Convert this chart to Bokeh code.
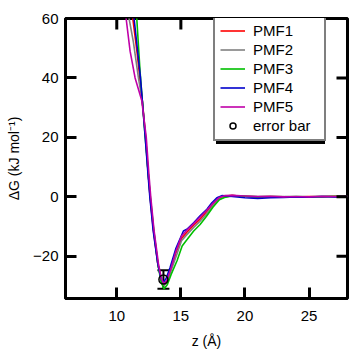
import math
from bokeh.plotting import figure
from bokeh.models import Legend, LegendItem, Whisker, ColumnDataSource, FixedTicker, Range1d, BoxAnnotation
from bokeh.embed import file_html
from bokeh.resources import INLINE

# ---- data ----
pmf1_z = [11.05, 11.25, 11.6, 12.0, 12.25, 12.45, 12.6, 12.85, 13.2, 13.45, 13.65, 13.9, 14.2, 14.6, 15.05, 15.45, 16.0, 16.5, 17.0, 17.5, 18.0, 18.4, 19.0, 19.5, 20.0, 21.0, 22.0, 23.0, 24.0, 25.0, 26.0, 27.0, 28.0]
pmf1_g = [67, 60, 48, 32, 20, 8, 0, -11, -22.5, -27.5, -29.5, -28.5, -24.5, -19, -14, -12, -9.5, -7.5, -5, -2.5, -0.5, 0.2, 0.5, 0.3, 0.2, 0.0, 0.1, 0.0, -0.1, 0.1, 0.0, 0.2, 0.1]

pmf2_z = [10.75, 10.96, 11.3, 11.69, 12.0, 12.25, 12.45, 12.6, 12.87, 13.22, 13.46, 13.66, 13.92, 14.22, 14.65, 15.05, 15.45, 16.0, 16.5, 17.0, 17.5, 18.0, 18.4, 19.0, 20.0, 21.0, 22.0, 23.0, 24.0, 25.0, 26.0, 27.0, 28.0]
pmf2_g = [67, 60, 52, 40, 32, 20, 8, 0, -11, -22.8, -28, -29.8, -28.8, -25, -19.8, -14.8, -12.8, -10.3, -8.2, -5.8, -3.0, -0.8, 0.0, 0.4, 0.2, 0.1, 0.0, 0.1, -0.1, 0.0, 0.1, 0.0, 0.1]

pmf3_z = [11.35, 11.56, 11.82, 12.0, 12.22, 12.45, 12.62, 12.88, 13.22, 13.45, 13.68, 13.95, 14.25, 14.7, 15.1, 15.5, 16.0, 16.5, 17.0, 17.5, 18.0, 18.4, 19.0, 20.0, 21.0, 22.0, 23.0, 24.0, 25.0, 26.0, 27.0, 28.0]
pmf3_g = [67, 60, 42, 32, 20, 8, 0, -11, -23, -28.5, -31, -29.5, -26, -21.5, -16.5, -14.3, -11.5, -9.3, -6.5, -3.5, -1.0, -0.2, 0.3, 0.2, 0.0, 0.1, 0.0, 0.1, 0.0, 0.1, 0.2, 0.2]

pmf4_z = [11.15, 11.35, 11.6, 11.85, 12.0, 12.22, 12.43, 12.58, 12.83, 13.18, 13.42, 13.62, 13.85, 14.16, 14.6, 15.2, 15.47, 16.0, 16.5, 17.03, 17.42, 17.81, 18.2, 18.6, 19.0, 20.0, 21.0, 22.0, 23.0, 24.0, 25.0, 26.0, 27.0, 28.0]
pmf4_g = [67, 60, 50, 40, 32, 20, 8, 0, -11, -22, -27, -28.8, -27.5, -23.8, -17.5, -11.5, -10.9, -8.7, -6.4, -4.2, -2.0, -0.3, 0.4, 0.3, 0.1, -0.3, -0.5, -0.3, -0.2, 0.0, -0.1, 0.1, 0.0, 0.1]

pmf5_z = [10.5, 10.73, 11.04, 11.43, 11.95, 12.3, 12.5, 12.65, 12.9, 13.25, 13.48, 13.68, 13.92, 14.2, 14.6, 15.05, 15.45, 16.0, 16.5, 17.0, 17.5, 18.0, 18.4, 19.0, 20.0, 21.0, 22.0, 23.0, 24.0, 25.0, 26.0, 27.0, 28.0]
pmf5_g = [67, 60, 49, 40, 32.4, 20, 8, 0, -11, -22.5, -27.5, -29.3, -28, -24.5, -18.5, -13.2, -11.3, -9, -6.8, -4.6, -2.2, -0.2, 0.4, 0.5, 0.3, 0.1, 0.2, 0.0, 0.1, 0.0, 0.2, 0.1, 0.2]

err_z = [13.64]
err_g = [-27.8]
err_d = [3.1]

series_names = ["PMF1", "PMF2", "PMF3", "PMF4", "PMF5"]
series_colors = ["#ff0000", "#808080", "#00c000", "#0000cc", "#c000a8"]
series_z = [pmf1_z, pmf2_z, pmf3_z, pmf4_z, pmf5_z]
series_g = [pmf1_g, pmf2_g, pmf3_g, pmf4_g, pmf5_g]

x_ticks = [10, 15, 20, 25]
y_ticks = [-20, 0, 20, 40, 60]
x_lo, x_hi = 6, 28
y_lo, y_hi = -34.2, 60

FONT = "Liberation Sans"
W, H = 361, 358
BL, BR, BT, BB = 65, 14, 18, 60
FW, FH = W - BL - BR, H - BT - BB

p = figure(width=W, height=H, output_backend="svg", toolbar_location=None,
           x_range=Range1d(x_lo, x_hi), y_range=Range1d(y_lo, y_hi),
           min_border_left=BL, min_border_right=BR, min_border_top=BT, min_border_bottom=BB)
p.grid.visible = False
p.outline_line_color = "black"
p.outline_line_width = 3
p.background_fill_color = "white"

items = []
for name, col, zz, gg in zip(series_names, series_colors, series_z, series_g):
    r = p.line(zz, gg, line_color=col, line_width=1.6)
    items.append(LegendItem(label=name, renderers=[r]))

src = ColumnDataSource(dict(z=err_z, g=err_g,
                            lo=[a - b for a, b in zip(err_g, err_d)],
                            hi=[a + b for a, b in zip(err_g, err_d)]))
wh = Whisker(base="z", lower="lo", upper="hi", source=src, line_color="black", line_width=2)
wh.upper_head.size = 12
wh.lower_head.size = 12
wh.upper_head.line_width = 2
wh.lower_head.line_width = 2
p.add_layout(wh)
cr = p.scatter("z", "g", source=src, marker="circle", size=9, fill_color=None,
               line_color="black", line_width=1.5)
items.append(LegendItem(label="error bar", renderers=[cr]))

# mirrored inward ticks on the top and right frame edges (half of each dash is clipped)
p.scatter(x_ticks, [y_hi] * len(x_ticks), marker="dash", size=22, angle=math.pi / 2,
          line_color="black", line_width=3)
p.scatter([x_hi] * len(y_ticks), y_ticks, marker="dash", size=22,
          line_color="black", line_width=3)

xa = p.xaxis[0]
ya = p.yaxis[0]
xa.ticker = FixedTicker(ticks=x_ticks)
ya.ticker = FixedTicker(ticks=y_ticks)
for ax in (xa, ya):
    ax.axis_line_width = 3
    ax.major_tick_line_width = 3
    ax.major_tick_in = 11
    ax.major_tick_out = 0
    ax.minor_tick_line_color = None
    ax.major_label_text_font = FONT
    ax.major_label_text_font_size = "15px"
    ax.major_label_text_color = "black"
    ax.axis_label_text_font = FONT
    ax.axis_label_text_font_size = "14px"
    ax.axis_label_text_font_style = "normal"
    ax.axis_label_text_color = "black"
xa.axis_label = "z (Å)"
ya.axis_label = "ΔG (kJ mol⁻¹)"
xa.major_label_standoff = 12
ya.major_label_standoff = 7
xa.axis_label_standoff = 9
ya.axis_label_standoff = 8

# legend box placement (pixels inside the frame) and its drop shadow
LEG_X, LEG_TOP, LEG_W, LEG_H, SH = 148, 13, 109, 110, 2.5
PAD, GW, STAND = 5, 25, 8
def px_to_x(px):
    return x_lo + px / FW * (x_hi - x_lo)
def py_to_y(py):
    return y_hi - py / FH * (y_hi - y_lo)
shadow = BoxAnnotation(left=px_to_x(LEG_X + SH), right=px_to_x(LEG_X + LEG_W + SH),
                       top=py_to_y(LEG_TOP + SH), bottom=py_to_y(LEG_TOP + LEG_H + SH),
                       fill_color="black", fill_alpha=1, line_color=None)
p.add_layout(shadow)

legend = Legend(items=items, location=(LEG_X, FH - LEG_TOP - LEG_H))
legend.label_text_font = FONT
legend.label_text_font_size = "15px"
legend.label_text_color = "black"
legend.label_height = 15
legend.glyph_height = 15
legend.glyph_width = GW
legend.label_width = LEG_W - 2 * PAD - GW - STAND
legend.spacing = 2
legend.padding = PAD
legend.margin = 0
legend.label_standoff = STAND
legend.border_line_color = "black"
legend.border_line_width = 2
legend.background_fill_alpha = 1
p.add_layout(legend)

open("out.html", "w").write(file_html(p, INLINE))
